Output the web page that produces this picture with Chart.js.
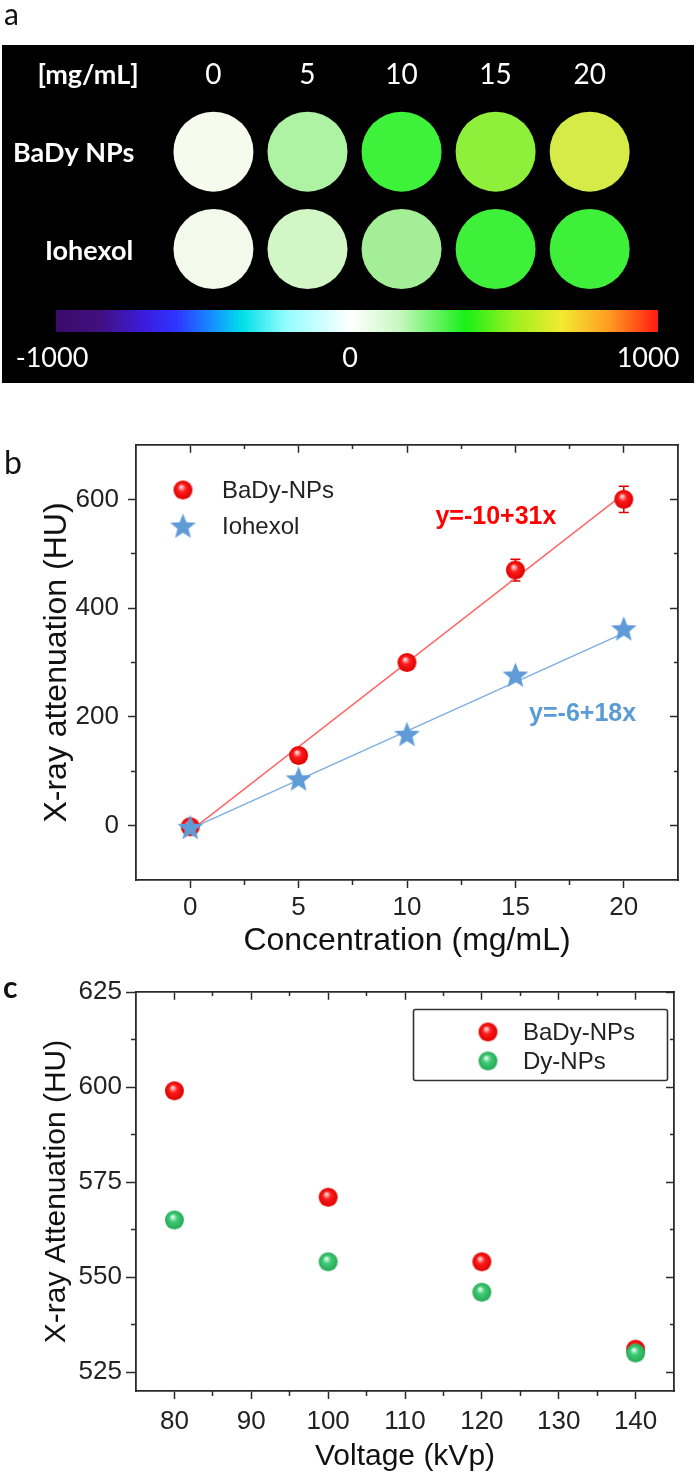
<!DOCTYPE html>
<html><head><meta charset="utf-8">
<script src="https://cdn.jsdelivr.net/npm/chart.js@4.4.1/dist/chart.umd.min.js"></script>
<style>
html,body{margin:0;padding:0;background:#fff;}
#wrap{position:relative;width:697px;height:1472px;overflow:hidden;background:#fff;}
canvas{position:absolute;left:0;}
</style></head><body>
<div id="wrap">
<canvas id="ca" width="697" height="395" style="top:0px"></canvas>
<canvas id="cb" width="697" height="565" style="top:395px"></canvas>
<canvas id="cc" width="697" height="512" style="top:960px"></canvas>
</div>
<script>
// ---------- Panel a data ----------
const phantomConcentrations = [0, 5, 10, 15, 20];
const phantomUnit = '[mg/mL]';
const phantomRows = ['BaDy NPs', 'Iohexol'];
const badyPhantomColors = ['#f6fbee', '#aef3a4', '#3ef23c', '#8ff03c', '#d6ea48'];
const iohexolPhantomColors = ['#f3faec', '#d2f6c6', '#a4ee98', '#3ef03a', '#3ef03a'];
const colorbarTicks = [-1000, 0, 1000];

// ---------- Panel b data ----------
const concentrations = [0, 5, 10, 15, 20];
const badyHU = [-2, 129, 300, 470, 600];
const badyErr = [6, 9, 10, 20, 24];
const iohexolHU = [-3, 86, 168, 277, 362];
const fitX = [0, 20];
const badyFit = [-10, 610];
const iohexolFit = [-6, 354];
const fitEquations = ['y=-10+31x', 'y=-6+18x'];
const bXTicks = [0, 5, 10, 15, 20];
const bXMinor = [2.5, 7.5, 12.5, 17.5];
const bYTicks = [0, 200, 400, 600];
const bYMinor = [100, 300, 500];
const bXTitle = 'Concentration (mg/mL)';
const bYTitle = 'X-ray attenuation (HU)';
const bSeries = ['BaDy-NPs', 'Iohexol'];

// ---------- Panel c data ----------
const voltages = [80, 100, 120, 140];
const badyVoltHU = [599, 571, 554, 531];
const dyVoltHU = [565, 554, 546, 530];
const cXTicks = [80, 90, 100, 110, 120, 130, 140];
const cXMinor = [85, 95, 105, 115, 125, 135];
const cYTicks = [525, 550, 575, 600, 625];
const cYMinor = [537.5, 562.5, 587.5, 612.5];
const cXTitle = 'Voltage (kVp)';
const cYTitle = 'X-ray Attenuation (HU)';
const cSeries = ['BaDy-NPs', 'Dy-NPs'];

Chart.defaults.font.family = "'Liberation Sans', Arial, sans-serif";
Chart.defaults.animation = false;
Chart.defaults.plugins.legend.display = false;
Chart.defaults.plugins.tooltip.enabled = false;

// ---------- marker images ----------
function makeBall(r, c0, c1, c2) {
  const s = Math.ceil(2 * r + 2);
  const cv = document.createElement('canvas'); cv.width = cv.height = s;
  const g = cv.getContext('2d');
  const cx = s / 2, cy = s / 2;
  const grad = g.createRadialGradient(cx - r * 0.2, cy - r * 0.35, r * 0.05, cx, cy, r);
  grad.addColorStop(0, c0); grad.addColorStop(0.4, c1); grad.addColorStop(1, c2);
  g.fillStyle = grad; g.beginPath(); g.arc(cx, cy, r, 0, Math.PI * 2); g.fill();
  return cv;
}
function makeStar(R, rin, color) {
  const s = Math.ceil(2 * R + 2);
  const cv = document.createElement('canvas'); cv.width = cv.height = s;
  const g = cv.getContext('2d');
  const cx = s / 2, cy = s / 2 + 1;
  g.beginPath();
  for (let i = 0; i < 10; i++) {
    const rr = i % 2 === 0 ? R : rin;
    const a = -Math.PI / 2 + i * Math.PI / 5;
    const px = cx + rr * Math.cos(a), py = cy + rr * Math.sin(a);
    if (i === 0) g.moveTo(px, py); else g.lineTo(px, py);
  }
  g.closePath(); g.fillStyle = color; g.fill();
  return cv;
}
const redBall = makeBall(9.5, '#ffe2e2', '#ff1c1c', '#dc0000');
const redBallC = makeBall(9.5, '#ffe2e2', '#ff1c1c', '#dc0000');
const greenBallC = makeBall(9.5, '#e6fff0', '#3fca74', '#27a857');
const blueStar = makeStar(13.5, 5.8, '#5f9bd6');

// ---------- panel a ----------
const panelAPlugin = {
  id: 'panelA',
  beforeDatasetsDraw(chart) {
    const ctx = chart.ctx, xs = chart.scales.x, ys = chart.scales.y;
    ctx.save();
    ctx.fillStyle = '#000'; ctx.fillRect(2, 45, 692, 338);
    ctx.fillStyle = '#111'; ctx.font = '30px Lato'; ctx.textAlign = 'left'; ctx.textBaseline = 'alphabetic';
    ctx.fillText('a', 4, 25);
    ctx.fillStyle = '#fff'; ctx.textBaseline = 'middle';
    ctx.font = 'bold 27px Lato'; ctx.textAlign = 'center';
    ctx.fillText(phantomUnit, 88, 75);
    ctx.font = '28px Lato';
    phantomConcentrations.forEach(c => ctx.fillText(String(c), xs.getPixelForValue(c), 75));
    ctx.font = 'bold 27px Lato'; ctx.textAlign = 'left';
    ctx.fillText(phantomRows[0], 13, ys.getPixelForValue(1) + 2);
    ctx.fillText(phantomRows[1], 45, ys.getPixelForValue(0) + 2);
    const g = ctx.createLinearGradient(56, 0, 658, 0);
    [[0, '#3b0a6a'], [0.07, '#420f7e'], [0.15, '#3a1de0'], [0.2, '#2d35ff'], [0.26, '#1590ff'],
     [0.31, '#00e0e8'], [0.38, '#90fdfd'], [0.49, '#ffffff'], [0.57, '#c8f8c0'], [0.68, '#18f018'],
     [0.76, '#9cf020'], [0.84, '#f2ea30'], [0.92, '#ff9a20'], [1, '#ff1a10']].forEach(s => g.addColorStop(s[0], s[1]));
    ctx.fillStyle = g; ctx.fillRect(56, 310, 602, 22);
    ctx.fillStyle = '#fff'; ctx.font = '27px Lato'; ctx.textAlign = 'center';
    const lo = colorbarTicks[0], hi = colorbarTicks[colorbarTicks.length - 1];
    colorbarTicks.forEach(v => ctx.fillText(String(v), 52 + (v - lo) / (hi - lo) * 596, 358));
    ctx.restore();
  }
};
new Chart(document.getElementById('ca'), {
  type: 'scatter',
  data: { datasets: [
    { label: phantomRows[0], data: phantomConcentrations.map(c => ({x: c, y: 1})),
      pointRadius: 40, pointBackgroundColor: badyPhantomColors, pointBorderWidth: 0 },
    { label: phantomRows[1], data: phantomConcentrations.map(c => ({x: c, y: 0})),
      pointRadius: 40, pointBackgroundColor: iohexolPhantomColors, pointBorderWidth: 0 }
  ]},
  options: {
    responsive: false, events: [],
    layout: { padding: 0 },
    scales: {
      x: { type: 'linear', display: false, min: -9.22, max: 23.58 },
      y: { type: 'linear', display: false, min: -1.0902, max: 2.1475 }
    }
  },
  plugins: [panelAPlugin]
});

// ---------- shared axis helpers ----------
const AX = '#2a2a2a';
function setTicks(arr) { return s => { s.ticks = arr.map(v => ({value: v})); }; }
function tickGrid(len) { return { drawOnChartArea: false, drawTicks: true, tickLength: len, tickWidth: 1.5, tickColor: AX }; }
function frameScales(o) {
  return {
    x: { type: 'linear', position: 'bottom', min: o.xMin, max: o.xMax,
         afterBuildTicks: setTicks(o.xMajor), afterFit: s => { s.height = o.xH; },
         grid: tickGrid(8), border: { display: true, color: AX, width: 1.8 },
         ticks: { font: { size: o.tickSize }, color: '#222', padding: o.xPad, maxRotation: 0, autoSkip: false },
         title: { display: true, text: o.xTitle, color: '#111', font: { size: o.titleSize, lineHeight: 1 }, padding: { top: 0, bottom: o.xTitlePad } } },
    y: { type: 'linear', position: 'left', min: o.yMin, max: o.yMax,
         afterBuildTicks: setTicks(o.yMajor), afterFit: s => { s.width = o.yW; },
         grid: tickGrid(o.yTick), border: { display: true, color: AX, width: 1.8 },
         ticks: { font: { size: o.tickSize }, color: '#222', padding: o.yPad, autoSkip: false },
         title: { display: true, text: o.yTitle, color: '#111', font: { size: o.titleSize, lineHeight: 1 }, padding: { top: o.yTitlePad, bottom: 0 } } },
    xBotMinor: { type: 'linear', axis: 'x', position: { y: o.yMin }, min: o.xMin, max: o.xMax,
         afterBuildTicks: setTicks(o.xMinor), grid: tickGrid(5), border: { display: false }, ticks: { display: false } },
    yLeftMinor: { type: 'linear', axis: 'y', position: { x: o.xMin }, min: o.yMin, max: o.yMax,
         afterBuildTicks: setTicks(o.yMinor), grid: tickGrid(5), border: { display: false }, ticks: { display: false } },
    xTop: { type: 'linear', axis: 'x', position: { y: o.yMax }, min: o.xMin, max: o.xMax,
         afterBuildTicks: setTicks(o.xMajor), grid: tickGrid(7), border: { display: true, color: AX, width: 1.8 }, ticks: { display: false } },
    xTopMinor: { type: 'linear', axis: 'x', position: { y: o.yMax }, min: o.xMin, max: o.xMax,
         afterBuildTicks: setTicks(o.xMinor), grid: tickGrid(4), border: { display: false }, ticks: { display: false } },
    yRight: { type: 'linear', axis: 'y', position: { x: o.xMax }, min: o.yMin, max: o.yMax,
         afterBuildTicks: setTicks(o.yMajor), grid: tickGrid(7), border: { display: true, color: AX, width: 1.8 }, ticks: { display: false } },
    yRightMinor: { type: 'linear', axis: 'y', position: { x: o.xMax }, min: o.yMin, max: o.yMax,
         afterBuildTicks: setTicks(o.yMinor), grid: tickGrid(4), border: { display: false }, ticks: { display: false } }
  };
}
function drawLegendItems(chart, items, font) {
  const ctx = chart.ctx, ca = chart.chartArea;
  ctx.save();
  ctx.font = font; ctx.fillStyle = '#222'; ctx.textAlign = 'left'; ctx.textBaseline = 'middle';
  items.forEach(it => {
    const ds = chart.data.datasets[it.ds];
    const img = ds.pointStyle;
    const mx = ca.left + it.mx, my = ca.top + it.my;
    ctx.drawImage(img, mx - img.width / 2, my - img.height / 2);
    ctx.fillText(ds.label, ca.left + it.tx, my + 1);
  });
  ctx.restore();
}

// ---------- panel b ----------
const panelBPlugin = {
  id: 'panelB',
  beforeDatasetsDraw(chart) {
    const ctx = chart.ctx, xs = chart.scales.x, ys = chart.scales.y;
    ctx.save(); ctx.strokeStyle = '#e00000'; ctx.lineWidth = 1.5;
    concentrations.forEach((c, i) => {
      const px = xs.getPixelForValue(c);
      const y1 = ys.getPixelForValue(badyHU[i] + badyErr[i]), y2 = ys.getPixelForValue(badyHU[i] - badyErr[i]);
      ctx.beginPath(); ctx.moveTo(px, y1); ctx.lineTo(px, y2);
      ctx.moveTo(px - 5, y1); ctx.lineTo(px + 5, y1); ctx.moveTo(px - 5, y2); ctx.lineTo(px + 5, y2); ctx.stroke();
    });
    ctx.restore();
  },
  afterDraw(chart) {
    const ctx = chart.ctx, xs = chart.scales.x, ys = chart.scales.y;
    drawLegendItems(chart, [{ds: 1, mx: 47, my: 45, tx: 86}, {ds: 0, mx: 47, my: 81, tx: 86}], '24px "Liberation Sans", Arial');
    ctx.save();
    ctx.textAlign = 'center'; ctx.textBaseline = 'middle'; ctx.font = 'bold 25px "Liberation Sans", Arial';
    const pos = [{x: 14.1, y: 567, c: '#ff0000'}, {x: 18.1, y: 205, c: '#5b9bd5'}];
    fitEquations.forEach((t, i) => { ctx.fillStyle = pos[i].c; ctx.fillText(t, xs.getPixelForValue(pos[i].x), ys.getPixelForValue(pos[i].y)); });
    ctx.fillStyle = '#111'; ctx.font = '32px Lato'; ctx.textAlign = 'left'; ctx.textBaseline = 'middle';
    ctx.fillText('b', 4, 69);
    ctx.restore();
  }
};
new Chart(document.getElementById('cb'), {
  type: 'scatter',
  data: { datasets: [
    { label: bSeries[1], data: concentrations.map((c, i) => ({x: c, y: iohexolHU[i]})), pointStyle: blueStar, pointRadius: 12 },
    { label: bSeries[0], data: concentrations.map((c, i) => ({x: c, y: badyHU[i]})), pointStyle: redBall, pointRadius: 9 },
    { label: 'Iohexol fit', data: fitX.map((x, i) => ({x: x, y: iohexolFit[i]})), showLine: true, pointRadius: 0, borderColor: '#7fb0e2', borderWidth: 1.6 },
    { label: 'BaDy fit', data: fitX.map((x, i) => ({x: x, y: badyFit[i]})), showLine: true, pointRadius: 0, borderColor: '#ff6a6a', borderWidth: 1.6 }
  ]},
  options: {
    responsive: false, events: [],
    layout: { padding: { left: 0, top: 50, right: 19, bottom: 0 } },
    scales: frameScales({ xMin: -2.5, xMax: 22.5, yMin: -100, yMax: 700, xMajor: bXTicks, xMinor: bXMinor,
      yMajor: bYTicks, yMinor: bYMinor, xH: 80, yW: 136, yTick: 8, tickSize: 26, titleSize: 32, xPad: 4, yPad: 9,
      xTitle: bXTitle, yTitle: bYTitle, xTitlePad: 3, yTitlePad: 41 })
  },
  plugins: [panelBPlugin]
});

// ---------- panel c ----------
const panelCPlugin = {
  id: 'panelC',
  afterDraw(chart) {
    const ctx = chart.ctx, ca = chart.chartArea;
    ctx.save();
    ctx.strokeStyle = '#333'; ctx.lineWidth = 1.6;
    ctx.beginPath(); ctx.roundRect(ca.left + 277.5, ca.top + 17.5, 254, 71, 2); ctx.stroke();
    ctx.restore();
    drawLegendItems(chart, [{ds: 1, mx: 352, my: 40, tx: 387}, {ds: 0, mx: 352, my: 69, tx: 387}], '24px "Liberation Sans", Arial');
    ctx.save();
    ctx.fillStyle = '#111'; ctx.font = 'bold 30px Lato'; ctx.textAlign = 'left'; ctx.textBaseline = 'middle';
    ctx.fillText('c', 3, 28);
    ctx.restore();
  }
};
new Chart(document.getElementById('cc'), {
  type: 'scatter',
  data: { datasets: [
    { label: cSeries[1], data: voltages.map((v, i) => ({x: v, y: dyVoltHU[i]})), pointStyle: greenBallC, pointRadius: 9 },
    { label: cSeries[0], data: voltages.map((v, i) => ({x: v, y: badyVoltHU[i]})), pointStyle: redBallC, pointRadius: 9 }
  ]},
  options: {
    responsive: false, events: [],
    layout: { padding: { left: 0, top: 32, right: 23, bottom: 0 } },
    scales: frameScales({ xMin: 75, xMax: 145, yMin: 520, yMax: 625, xMajor: cXTicks, xMinor: cXMinor,
      yMajor: cYTicks, yMinor: cYMinor, xH: 81, yW: 136, yTick: 10, tickSize: 26, titleSize: 30, xPad: 7, yPad: 4,
      xTitle: cXTitle, yTitle: cYTitle, xTitlePad: 0, yTitlePad: 42 })
  },
  plugins: [panelCPlugin]
});
</script>
</body></html>
